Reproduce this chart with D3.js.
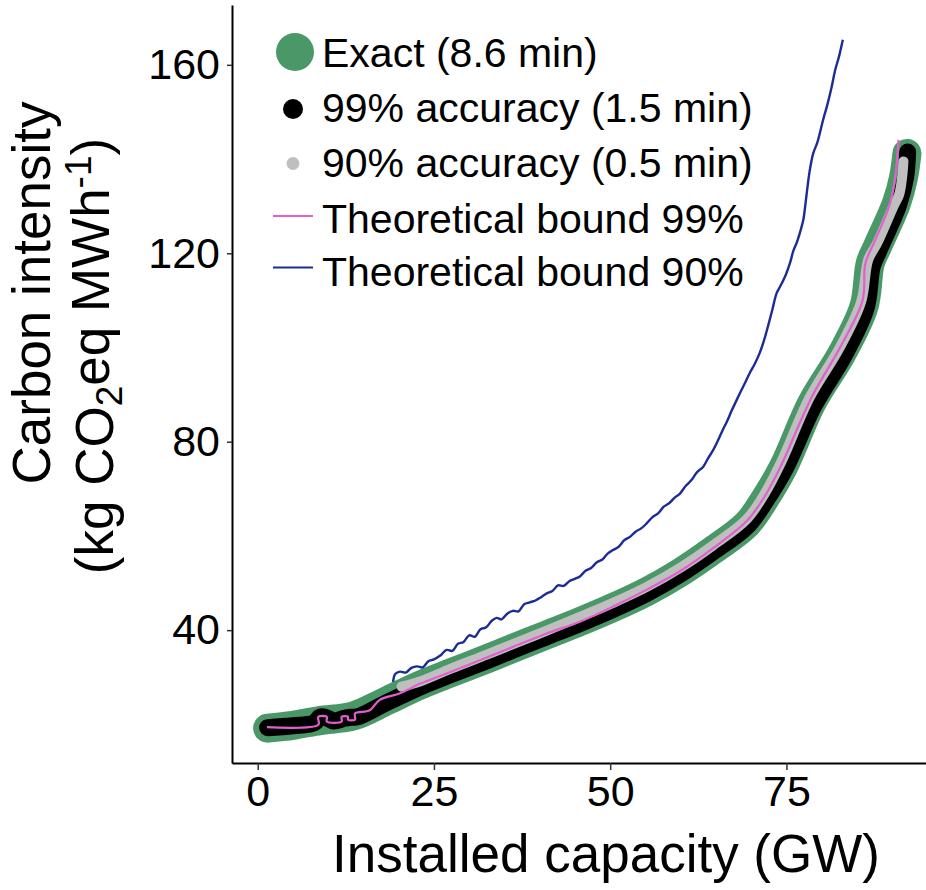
<!DOCTYPE html>
<html>
<head>
<meta charset="utf-8">
<script src="https://cdn.jsdelivr.net/npm/d3@7"></script>
<style>
  html, body { margin: 0; padding: 0; background: #fff; }
  text { font-family: "Liberation Sans", Arial, Helvetica, sans-serif; fill: #000; }
</style>
</head>
<body>
<div id="chart"></div>
<script>
// Carbon intensity vs installed capacity: exact solution against approximations

// Exact (8.6 min)
const exactX = [1.4, 5.0, 8.8, 13.6, 18.3, 23.0, 27.5, 32.5, 36.3, 41.0, 45.7, 50.4, 55.2, 60.0, 64.6, 69.4, 72.0, 74.6, 78.6, 82.9, 86.0, 86.9, 87.9, 90.6, 91.6, 92.1];
const exactY = [19.2, 19.8, 20.8, 21.8, 25.0, 28.3, 31.0, 33.9, 36.2, 39.0, 41.8, 44.8, 48.2, 52.3, 57.0, 62.5, 68.0, 74.7, 88.2, 98.8, 108.7, 117.9, 121.4, 130.6, 136.0, 141.2];

// 99% accuracy (1.5 min)
const acc99X = [1.4, 5.0, 8.0, 8.9, 9.8, 10.8, 12.3, 13.2, 14.2, 18.3, 23.0, 27.5, 32.5, 36.3, 41.0, 45.7, 50.4, 55.2, 60.0, 64.6, 69.4, 72.1, 74.8, 78.9, 83.2, 86.3, 87.2, 88.2, 90.9, 91.9, 92.2];
const acc99Y = [19.3, 19.7, 20.3, 21.6, 21.4, 20.7, 21.3, 21.5, 21.6, 24.6, 27.9, 30.6, 33.5, 35.8, 38.6, 41.4, 44.4, 47.8, 51.9, 56.6, 62.0, 67.5, 74.2, 87.6, 98.3, 108.3, 117.3, 120.8, 130.2, 136.0, 141.5];

// 90% accuracy (0.5 min)
const acc90X = [20.4, 23.0, 27.5, 32.5, 36.3, 41.0, 45.7, 50.4, 55.2, 60.0, 64.6, 69.4, 72.0, 74.3, 78.3, 82.5, 85.6, 86.6, 87.9, 90.2, 91.0, 91.4, 91.6];
const acc90Y = [28.0, 29.1, 31.9, 34.8, 37.1, 39.9, 42.8, 45.8, 49.2, 53.3, 58.0, 63.6, 69.2, 75.8, 89.4, 99.8, 109.7, 118.6, 122.2, 130.0, 132.5, 136.0, 139.5];

// Theoretical bound 99%
const bound99X = [1.3, 8.6, 8.6, 9.8, 9.8, 11.9, 11.9, 12.8, 12.8, 13.8, 13.8, 15.9, 17.3, 20.2, 23.0, 26.8, 31.5, 36.3, 41.0, 45.7, 50.4, 55.2, 60.0, 64.6, 69.4, 72.0, 74.1, 78.6, 82.6, 85.8, 86.2, 87.5, 89.7, 90.5, 90.9];
const bound99Y = [19.4, 19.9, 21.6, 21.6, 20.6, 20.6, 21.6, 21.6, 21.0, 21.0, 22.3, 23.0, 25.2, 26.6, 28.6, 30.8, 33.6, 36.5, 39.3, 41.8, 45.0, 48.6, 52.6, 57.4, 63.2, 68.6, 74.5, 89.5, 100.0, 110.0, 117.9, 122.5, 130.6, 137.0, 144.1];

// Theoretical bound 90%
const bound90X = [19.2, 19.5, 20.2, 21.0, 21.8, 22.6, 23.4, 24.2, 25.0, 25.9, 26.8, 27.6, 28.4, 29.2, 30.0, 30.8, 31.6, 32.4, 33.2, 33.9,
  34.6, 35.4, 36.2, 37.0, 37.8, 38.6, 39.4, 40.2, 41.0, 41.8, 42.6, 43.4, 44.2, 45.0, 45.7, 46.5, 47.3, 48.1, 48.9, 49.6,
  50.4, 51.2, 52.0, 52.8, 53.6, 54.4, 55.2, 56.0, 56.8, 57.6, 58.4, 59.2, 59.9, 60.7, 61.5, 62.3, 63.2, 63.9, 64.6, 65.3,
  66.0, 66.6, 67.2, 67.8, 68.4, 69.1, 69.8, 70.5, 71.2, 71.8, 72.4, 73.0, 73.6, 74.2, 74.9, 75.5, 76.0, 76.5, 77.0, 77.4,
  77.7, 78.0, 78.3, 78.8, 79.4, 80.2, 80.8, 81.4, 81.9, 82.5, 83.0];
const bound90Y = [29.0, 30.7, 31.2, 31.0, 32.0, 32.3, 32.1, 33.4, 33.8, 34.6, 35.8, 35.6, 37.1, 37.5, 38.9, 38.6, 40.2, 40.6, 42.0, 42.6,
  42.3, 43.5, 44.1, 44.0, 45.5, 45.9, 46.3, 47.0, 47.8, 48.3, 49.5, 49.4, 50.4, 50.9, 51.4, 52.6, 53.2, 54.4, 55.0, 56.2,
  57.0, 57.7, 59.1, 59.8, 60.9, 61.6, 62.7, 64.0, 64.8, 66.2, 67.0, 68.2, 69.0, 70.6, 71.8, 73.5, 74.7, 76.5, 78.2, 80.3,
  82.6, 84.4, 86.5, 88.4, 90.3, 92.4, 94.6, 96.5, 98.8, 101.4, 104.6, 108.0, 111.5, 113.2, 115.4, 117.9, 120.6, 122.4, 124.8, 127.1,
  130.5, 134.2, 137.5, 141.2, 143.6, 148.3, 151.5, 155.2, 158.8, 162.0, 165.3];

const xTicks = [0, 25, 50, 75];
const yTicks = [40, 80, 120, 160];
const legendLabels = ["Exact (8.6 min)", "99% accuracy (1.5 min)", "90% accuracy (0.5 min)", "Theoretical bound 99%", "Theoretical bound 90%"];

const colors = {
    exact: "#4a9868",
    acc99: "#000000",
    acc90: "#bfbfbf",
    bound99: "#e35fcf",
    bound90: "#1b2d95"
};

function createChart() {
    const width = 926;
    const height = 890;

    const svg = d3.select("#chart").append("svg")
        .attr("width", width)
        .attr("height", height);

    // Panel edges
    const x = d3.scaleLinear().domain([-3.65, 94.8]).range([232, 926]);
    const y = d3.scaleLinear().domain([11.8, 172.7]).range([763, 5]);

    const smooth = d3.line()
        .x(d => x(d[0]))
        .y(d => y(d[1]))
        .curve(d3.curveCatmullRom.alpha(0.5));

    const toPts = (xs, ys) => xs.map((v, i) => [v, ys[i]]);

    const plot = svg.append("g");

    // Dense point clouds drawn as thick round-capped bands
    const bands = [
        { xs: exactX, ys: exactY, color: colors.exact, w: 29 },
        { xs: acc99X, ys: acc99Y, color: colors.acc99, w: 17 },
        { xs: acc90X, ys: acc90Y, color: colors.acc90, w: 10 }
    ];
    bands.forEach(b => {
        plot.append("path")
            .datum(toPts(b.xs, b.ys))
            .attr("d", smooth)
            .attr("fill", "none")
            .attr("stroke", b.color)
            .attr("stroke-width", b.w)
            .attr("stroke-linecap", "round")
            .attr("stroke-linejoin", "round");
    });

    plot.append("path")
        .datum(toPts(bound99X, bound99Y))
        .attr("d", smooth)
        .attr("fill", "none")
        .attr("stroke", colors.bound99)
        .attr("stroke-width", 2.2);

    plot.append("path")
        .datum(toPts(bound90X, bound90Y))
        .attr("d", smooth)
        .attr("fill", "none")
        .attr("stroke", colors.bound90)
        .attr("stroke-width", 2.4)
        .attr("stroke-linejoin", "round");

    // Axes
    const xAxis = svg.append("g")
        .attr("transform", `translate(0, ${y.range()[0]})`)
        .call(d3.axisBottom(x).tickValues(xTicks).tickSize(7).tickSizeOuter(0).tickPadding(5));

    const yAxis = svg.append("g")
        .attr("transform", `translate(${x.range()[0]}, 0)`)
        .call(d3.axisLeft(y).tickValues(yTicks).tickSize(5).tickSizeOuter(0).tickPadding(7));

    [xAxis, yAxis].forEach(a => {
        a.select(".domain").attr("stroke", "#000").attr("stroke-width", 2);
        a.selectAll(".tick line").attr("stroke", "#333").attr("stroke-width", 1.5);
        a.selectAll(".tick text")
            .attr("fill", "#000")
            .style("font-family", "'Liberation Sans', Arial, sans-serif")
            .style("font-size", "43px");
    });

    // Axis titles
    svg.append("text")
        .attr("x", 606)
        .attr("y", 872)
        .attr("text-anchor", "middle")
        .style("font-size", "53px")
        .text("Installed capacity (GW)");

    svg.append("text")
        .attr("transform", "translate(50, 293) rotate(-90)")
        .attr("text-anchor", "middle")
        .style("font-size", "53px")
        .text("Carbon intensity");

    const yt2 = svg.append("text")
        .attr("transform", "translate(113, 356) rotate(-90)")
        .attr("text-anchor", "middle")
        .style("font-size", "53px");
    yt2.append("tspan").text("(kg CO");
    yt2.append("tspan").attr("dy", "0.25em").style("font-size", "37px").text("2");
    yt2.append("tspan").attr("dy", "-0.25em").text("eq MWh");
    yt2.append("tspan").attr("dy", "-0.5em").style("font-size", "37px").text("-1");
    yt2.append("tspan").attr("dy", "0.35em").text(")");

    // Legend
    const rowY = [52, 107, 162.5, 218, 271.5];
    const legend = svg.append("g").attr("class", "legend");

    legend.append("circle").attr("cx", 295).attr("cy", rowY[0]).attr("r", 19).attr("fill", colors.exact);
    legend.append("circle").attr("cx", 293).attr("cy", rowY[1] + 2).attr("r", 10).attr("fill", colors.acc99);
    legend.append("circle").attr("cx", 293).attr("cy", rowY[2] + 1).attr("r", 6.5).attr("fill", colors.acc90);
    legend.append("line").attr("x1", 273).attr("x2", 313).attr("y1", rowY[3] - 2).attr("y2", rowY[3] - 2)
        .attr("stroke", colors.bound99).attr("stroke-width", 2);
    legend.append("line").attr("x1", 273).attr("x2", 313).attr("y1", rowY[4] - 4).attr("y2", rowY[4] - 4)
        .attr("stroke", colors.bound90).attr("stroke-width", 2);

    legend.selectAll(".legend-text")
        .data(legendLabels)
        .enter().append("text")
        .attr("class", "legend-text")
        .attr("x", 322)
        .attr("y", (d, i) => rowY[i])
        .attr("dy", "0.36em")
        .style("font-size", "41px")
        .text(d => d);
}

createChart();
</script>
</body>
</html>
